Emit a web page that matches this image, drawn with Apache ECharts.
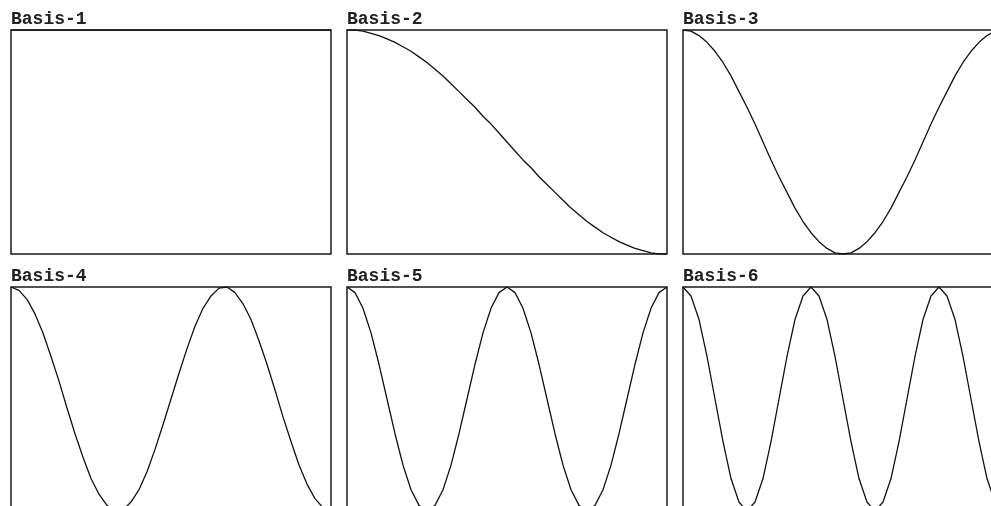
<!DOCTYPE html>
<html>
<head>
<meta charset="utf-8">
<script src="https://cdn.jsdelivr.net/npm/echarts@6/dist/echarts.min.js"></script>
<style>
  html, body { margin: 0; padding: 0; background: #ffffff; }
  #chart { width: 991px; height: 506px; }
</style>
</head>
<body>
<div id="chart"></div>
<script>
// Panel titles
const basisNames = ['Basis-1', 'Basis-2', 'Basis-3', 'Basis-4', 'Basis-5', 'Basis-6'];

// Sample positions along each waveform (41 evenly spaced samples)
const sampleIndex = [0,1,2,3,4,5,6,7,8,9,10,11,12,13,14,15,16,17,18,19,20,
  21,22,23,24,25,26,27,28,29,30,31,32,33,34,35,36,37,38,39,40];

// Sampled waveform values, one array per basis function
const basis1 = [1,1,1,1,1,1,1,1,1,1,1,1,1,1,1,1,1,1,1,1,1,
  1,1,1,1,1,1,1,1,1,1,1,1,1,1,1,1,1,1,1,1];
const basis2 = [1.00,1.00,0.99,0.97,0.95,0.92,0.89,0.85,0.81,0.76,0.71,0.65,0.59,0.52,0.45,0.38,0.31,0.23,0.16,0.08,0.00,
  -0.08,-0.16,-0.23,-0.31,-0.38,-0.45,-0.52,-0.59,-0.65,-0.71,-0.76,-0.81,-0.85,-0.89,-0.92,-0.95,-0.97,-0.99,-1.00,-1.00];
const basis3 = [1.00,0.99,0.95,0.89,0.81,0.71,0.59,0.45,0.31,0.16,0.00,-0.16,-0.31,-0.45,-0.59,-0.71,-0.81,-0.89,-0.95,-0.99,-1.00,
  -0.99,-0.95,-0.89,-0.81,-0.71,-0.59,-0.45,-0.31,-0.16,0.00,0.16,0.31,0.45,0.59,0.71,0.81,0.89,0.95,0.99,1.00];
const basis4 = [1.00,0.97,0.89,0.76,0.59,0.38,0.16,-0.08,-0.31,-0.52,-0.71,-0.85,-0.95,-1.00,-0.99,-0.92,-0.81,-0.65,-0.45,-0.23,0.00,
  0.23,0.45,0.65,0.81,0.92,0.99,1.00,0.95,0.85,0.71,0.52,0.31,0.08,-0.16,-0.38,-0.59,-0.76,-0.89,-0.97,-1.00];
const basis5 = [1.00,0.95,0.81,0.59,0.31,0.00,-0.31,-0.59,-0.81,-0.95,-1.00,-0.95,-0.81,-0.59,-0.31,0.00,0.31,0.59,0.81,0.95,1.00,
  0.95,0.81,0.59,0.31,0.00,-0.31,-0.59,-0.81,-0.95,-1.00,-0.95,-0.81,-0.59,-0.31,0.00,0.31,0.59,0.81,0.95,1.00];
const basis6 = [1.00,0.92,0.71,0.38,0.00,-0.38,-0.71,-0.92,-1.00,-0.92,-0.71,-0.38,0.00,0.38,0.71,0.92,1.00,
  0.92,0.71,0.38,0.00,-0.38,-0.71,-0.92,-1.00,-0.92,-0.71,-0.38,0.00,0.38,0.71,0.92,1.00,
  0.92,0.71,0.38,0.00,-0.38,-0.71,-0.92,-1.00];

const basisSeries = [basis1, basis2, basis3, basis4, basis5, basis6];

// 3 x 2 panel layout; the right column and bottom row run past the canvas edge
const colLeft = [11, 347, 683];
const rowTop = [30, 287];
const panelW = 320;
const panelH = 224;

const grids = [], xAxes = [], yAxes = [], series = [], titles = [];
basisSeries.forEach((values, i) => {
  const col = i % 3, row = Math.floor(i / 3);
  grids.push({
    left: colLeft[col], top: rowTop[row], width: panelW, height: panelH,
    outerBoundsMode: 'none',
    show: true, borderColor: '#1a1a1a', borderWidth: 1.5, backgroundColor: '#ffffff'
  });
  xAxes.push({
    type: 'category', gridIndex: i, data: sampleIndex, boundaryGap: false,
    axisLine: { show: false }, axisTick: { show: false }, axisLabel: { show: false }, splitLine: { show: false }
  });
  yAxes.push({
    type: 'value', gridIndex: i, min: -1, max: 1,
    axisLine: { show: false }, axisTick: { show: false }, axisLabel: { show: false }, splitLine: { show: false }
  });
  series.push({
    type: 'line', xAxisIndex: i, yAxisIndex: i, data: values,
    showSymbol: false, symbol: 'none', smooth: false,
    lineStyle: { color: '#111111', width: 1.3 }, silent: true
  });
  titles.push({
    text: basisNames[i], left: colLeft[col], top: rowTop[row] - 20, padding: 0,
    textStyle: { fontFamily: 'Liberation Mono', fontWeight: 'bold', fontSize: 18, color: '#222222' }
  });
});

const chart = echarts.init(document.getElementById('chart'), null, { renderer: 'canvas' });
chart.setOption({
  animation: false,
  backgroundColor: '#ffffff',
  title: titles,
  grid: grids,
  xAxis: xAxes,
  yAxis: yAxes,
  series: series
});
</script>
</body>
</html>
